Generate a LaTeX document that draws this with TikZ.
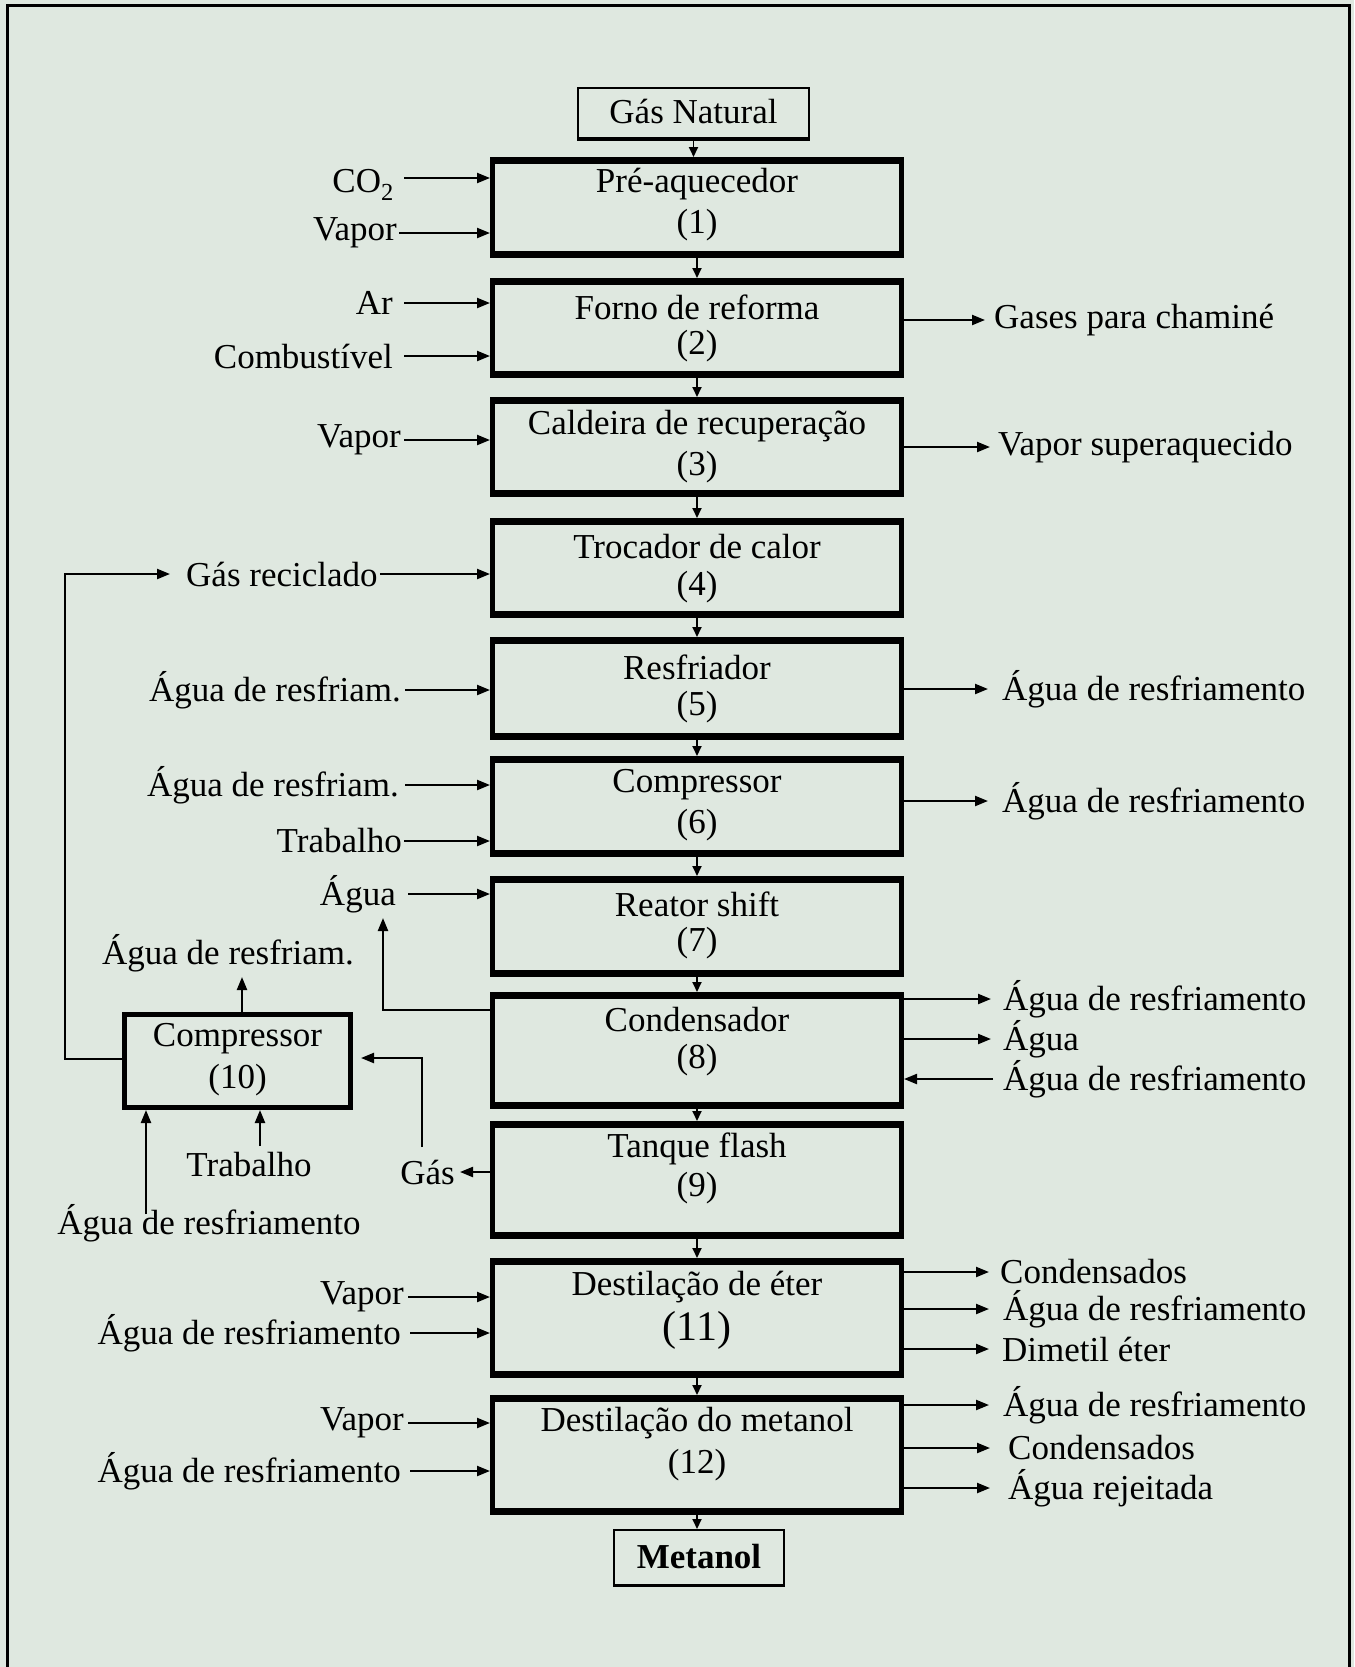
\documentclass[tikz,border=0pt]{standalone}
\usepackage{fontspec}
\setmainfont{Liberation Serif}
\usetikzlibrary{arrows.meta}
\definecolor{bgc}{RGB}{223,232,224}
\begin{document}
\begin{tikzpicture}[x=1pt,y=-1pt,
  every node/.style={font=\fontsize{35}{42}\selectfont, inner sep=0pt},
  mainbox/.style={draw, line width=4.8pt, minimum width=409.2pt},
  sidebox/.style={draw, line width=4.8pt},
  thinbox/.style={draw, line width=2.2pt},
  arr/.style={line width=2.2pt, -{Triangle[length=13pt,width=10pt]}},
  sarr/.style={line width=1.8pt, -{Triangle[length=10pt,width=9pt]}},
  ln/.style={line width=2pt}]
\useasboundingbox (0,0) rectangle (1354,1667);
\fill[bgc] (0,0) rectangle (1354,1667);
\draw[line width=3pt] (7,1667) -- (7,6) -- (1349,6) -- (1349,1667);

% ---------- boxes ----------
\node[thinbox, minimum width=230.8pt, minimum height=51.8pt] (gn) at (693.5,114) {};
\node[mainbox, minimum height=96.2pt] (b1) at (697,207.5) {};
\node[mainbox, minimum height=95.2pt] (b2) at (697,328) {};
\node[mainbox, minimum height=95.2pt] (b3) at (697,447) {};
\node[mainbox, minimum height=95.2pt] (b4) at (697,568) {};
\node[mainbox, minimum height=98.2pt] (b5) at (697,688.5) {};
\node[mainbox, minimum height=96.2pt] (b6) at (697,806.5) {};
\node[mainbox, minimum height=96.2pt] (b7) at (697,926.5) {};
\node[mainbox, minimum height=112.2pt] (b8) at (697,1050.5) {};
\node[mainbox, minimum height=113.2pt] (b9) at (697,1180) {};
\node[mainbox, minimum height=115.2pt] (b11) at (697,1318) {};
\node[mainbox, minimum height=115.2pt] (b12) at (697,1455) {};
\node[sidebox, minimum width=226.2pt, minimum height=93.2pt] (b10) at (237.5,1061) {};
\node[thinbox, minimum width=169.8pt, minimum height=55.8pt] (met) at (699,1558) {};

\foreach \b in {b1,b2,b3,b4,b5,b6,b7,b8,b9,b11,b12}{
  \draw[line width=7pt] ([yshift=-3.5pt]\b.north west) -- ([yshift=-3.5pt]\b.north east);
  \draw[line width=7pt] ([yshift=3.5pt]\b.south west) -- ([yshift=3.5pt]\b.south east);
}
\foreach \b in {gn,met}{
  \draw[line width=3.5pt] ([yshift=1.75pt]\b.south west) -- ([yshift=1.75pt]\b.south east);
}

% ---------- box texts ----------
\node (tgn) at (693.5,112) {Gás Natural};
\node (t1) at (697,184) {Pré-aquecedor};
\node (n1) at (697,225) {(1)};
\node (t2) at (697,307) {Forno de reforma};
\node (n2) at (697,346) {(2)};
\node (t3) at (697,426) {Caldeira de recuperação};
\node (n3) at (697,467) {(3)};
\node (t4) at (697,547) {Trocador de calor};
\node (n4) at (697,587) {(4)};
\node (t5) at (697,667) {Resfriador};
\node (n5) at (697,707) {(5)};
\node (t6) at (697,785) {Compressor};
\node (n6) at (697,825) {(6)};
\node (t7) at (697,904) {Reator shift};
\node (n7) at (697,943) {(7)};
\node (t8) at (697,1020) {Condensador};
\node (n8) at (697,1060) {(8)};
\node (t9) at (697,1149) {Tanque flash};
\node (n9) at (697,1188) {(9)};
\node (t11) at (697,1287) {Destilação de éter};
\node[font=\fontsize{42}{48}\selectfont] (n11) at (697,1330) {(11)};
\node (t12) at (697,1423) {Destilação do metanol};
\node (n12) at (697,1465) {(12)};
\node (t10) at (237.5,1039) {Compressor};
\node (n10) at (237.5,1080) {(10)};
\node[font=\fontsize{35}{42}\selectfont\bfseries] (tmet) at (699,1557) {Metanol};

% ---------- main flow ----------
\draw[sarr] (gn.south) -- (gn.south |- b1.north);
\draw[sarr] (b1.south) -- (b2.north);
\draw[sarr] (b2.south) -- (b3.north);
\draw[sarr] (b3.south) -- (b4.north);
\draw[sarr] (b4.south) -- (b5.north);
\draw[sarr] (b5.south) -- (b6.north);
\draw[sarr] (b6.south) -- (b7.north);
\draw[sarr] (b7.south) -- (b8.north);
\draw[sarr] (b8.south) -- (b9.north);
\draw[sarr] (b9.south) -- (b11.north);
\draw[sarr] (b11.south) -- (b12.north);
\draw[sarr] (b12.south) -- (b12.south |- met.north);

% ---------- left inputs ----------
\node[anchor=east] (lCO2) at (394,185) {CO\textsubscript{2}};
\draw[arr] ([xshift=10pt,yshift=7pt]lCO2.east) -- ([yshift=7pt]lCO2.east -| b1.west);
\node[anchor=east] (lV1) at (397,233) {Vapor};
\draw[arr] ([xshift=2pt]lV1.east) -- (lV1.east -| b1.west);
\node[anchor=east] (lAr) at (393,303) {Ar};
\draw[arr] ([xshift=11pt]lAr.east) -- (lAr.east -| b2.west);
\node[anchor=east] (lCb) at (393,356) {Combustível};
\draw[arr] ([xshift=11pt]lCb.east) -- (lCb.east -| b2.west);
\node[anchor=east] (lV3) at (401,440) {Vapor};
\draw[arr] ([xshift=3pt]lV3.east) -- (lV3.east -| b3.west);
\node[anchor=west] (lGR) at (186,574) {Gás reciclado};
\draw[arr] ([xshift=2pt]lGR.east) -- (lGR.east -| b4.west);
\node[anchor=east] (lA5) at (401,690) {Água de resfriam.};
\draw[arr] ([xshift=4pt]lA5.east) -- (lA5.east -| b5.west);
\node[anchor=east] (lA6) at (399,785) {Água de resfriam.};
\draw[arr] ([xshift=6pt]lA6.east) -- (lA6.east -| b6.west);
\node[anchor=east] (lT6) at (402,841) {Trabalho};
\draw[arr] ([xshift=2pt]lT6.east) -- (lT6.east -| b6.west);
\node[anchor=east] (lAg7) at (396,894) {Água};
\draw[arr] ([xshift=12pt]lAg7.east) -- (lAg7.east -| b7.west);
\node[anchor=east] (lV11) at (404,1297) {Vapor};
\draw[arr] ([xshift=4pt]lV11.east) -- (lV11.east -| b11.west);
\node[anchor=east] (lA11) at (401,1333) {Água de resfriamento};
\draw[arr] ([xshift=9pt]lA11.east) -- (lA11.east -| b11.west);
\node[anchor=east] (lV12) at (404,1423) {Vapor};
\draw[arr] ([xshift=4pt]lV12.east) -- (lV12.east -| b12.west);
\node[anchor=east] (lA12) at (401,1471) {Água de resfriamento};
\draw[arr] ([xshift=9pt]lA12.east) -- (lA12.east -| b12.west);

% ---------- right outputs ----------
\node[anchor=west] (rGC) at (994,320) {Gases para chaminé};
\draw[arr] (rGC.west -| b2.east) -- ([xshift=-9pt]rGC.west);
\node[anchor=west] (rVS) at (998,447) {Vapor superaquecido};
\draw[arr] (rVS.west -| b3.east) -- ([xshift=-8pt]rVS.west);
\node[anchor=west] (rA5) at (1002,689) {Água de resfriamento};
\draw[arr] (rA5.west -| b5.east) -- ([xshift=-14pt]rA5.west);
\node[anchor=west] (rA6) at (1002,801) {Água de resfriamento};
\draw[arr] (rA6.west -| b6.east) -- ([xshift=-14pt]rA6.west);
\node[anchor=west] (rA8a) at (1003,999) {Água de resfriamento};
\draw[arr] (rA8a.west -| b8.east) -- ([xshift=-12pt]rA8a.west);
\node[anchor=west] (rA8b) at (1003,1039) {Água};
\draw[arr] (rA8b.west -| b8.east) -- ([xshift=-12pt]rA8b.west);
\node[anchor=west] (rA8c) at (1003,1079) {Água de resfriamento};
\draw[arr] ([xshift=-10pt]rA8c.west) -- (rA8c.west -| b8.east);
\node[anchor=west] (rC11) at (1000,1272) {Condensados};
\draw[arr] (rC11.west -| b11.east) -- ([xshift=-11pt]rC11.west);
\node[anchor=west] (rA11) at (1003,1309) {Água de resfriamento};
\draw[arr] (rA11.west -| b11.east) -- ([xshift=-14pt]rA11.west);
\node[anchor=west] (rD11) at (1002,1349) {Dimetil éter};
\draw[arr] (rD11.west -| b11.east) -- ([xshift=-13pt]rD11.west);
\node[anchor=west] (rA12) at (1003,1405) {Água de resfriamento};
\draw[arr] (rA12.west -| b12.east) -- ([xshift=-14pt]rA12.west);
\node[anchor=west] (rC12) at (1008,1448) {Condensados};
\draw[arr] (rC12.west -| b12.east) -- ([xshift=-18pt]rC12.west);
\node[anchor=west] (rR12) at (1008,1488) {Água rejeitada};
\draw[arr] (rR12.west -| b12.east) -- ([xshift=-18pt]rR12.west);

% ---------- recycle & side streams ----------
\draw[arr] ([yshift=2pt]b10.west) -- ++(-57,0) |- ([xshift=-16pt]lGR.west);
\coordinate (cAg) at (383,918);
\draw[arr] ([yshift=40.5pt]b8.west) -| (cAg);
\node[anchor=east] (lGas) at (455,1172) {Gás};
\draw[arr] (lGas.east -| b9.west) -- ([xshift=5pt]lGas.east);
\coordinate (cGup) at (422,1147);
\draw[arr] (cGup) |- ([xshift=8pt,yshift=3pt]b10.east);
\node (lAR10) at (228,953) {Água de resfriam.};
\draw[arr] ([xshift=4.5pt]b10.north) -- ++(0,-35);
\node (lT10) at (249,1165) {Trabalho};
\coordinate (cTr) at (260,1146);
\draw[arr] (cTr) -- (cTr |- b10.south);
\node (lA10) at (209,1223) {Água de resfriamento};
\coordinate (cAr) at (146,1214);
\draw[arr] (cAr) -- (cAr |- b10.south);
\end{tikzpicture}
\end{document}
